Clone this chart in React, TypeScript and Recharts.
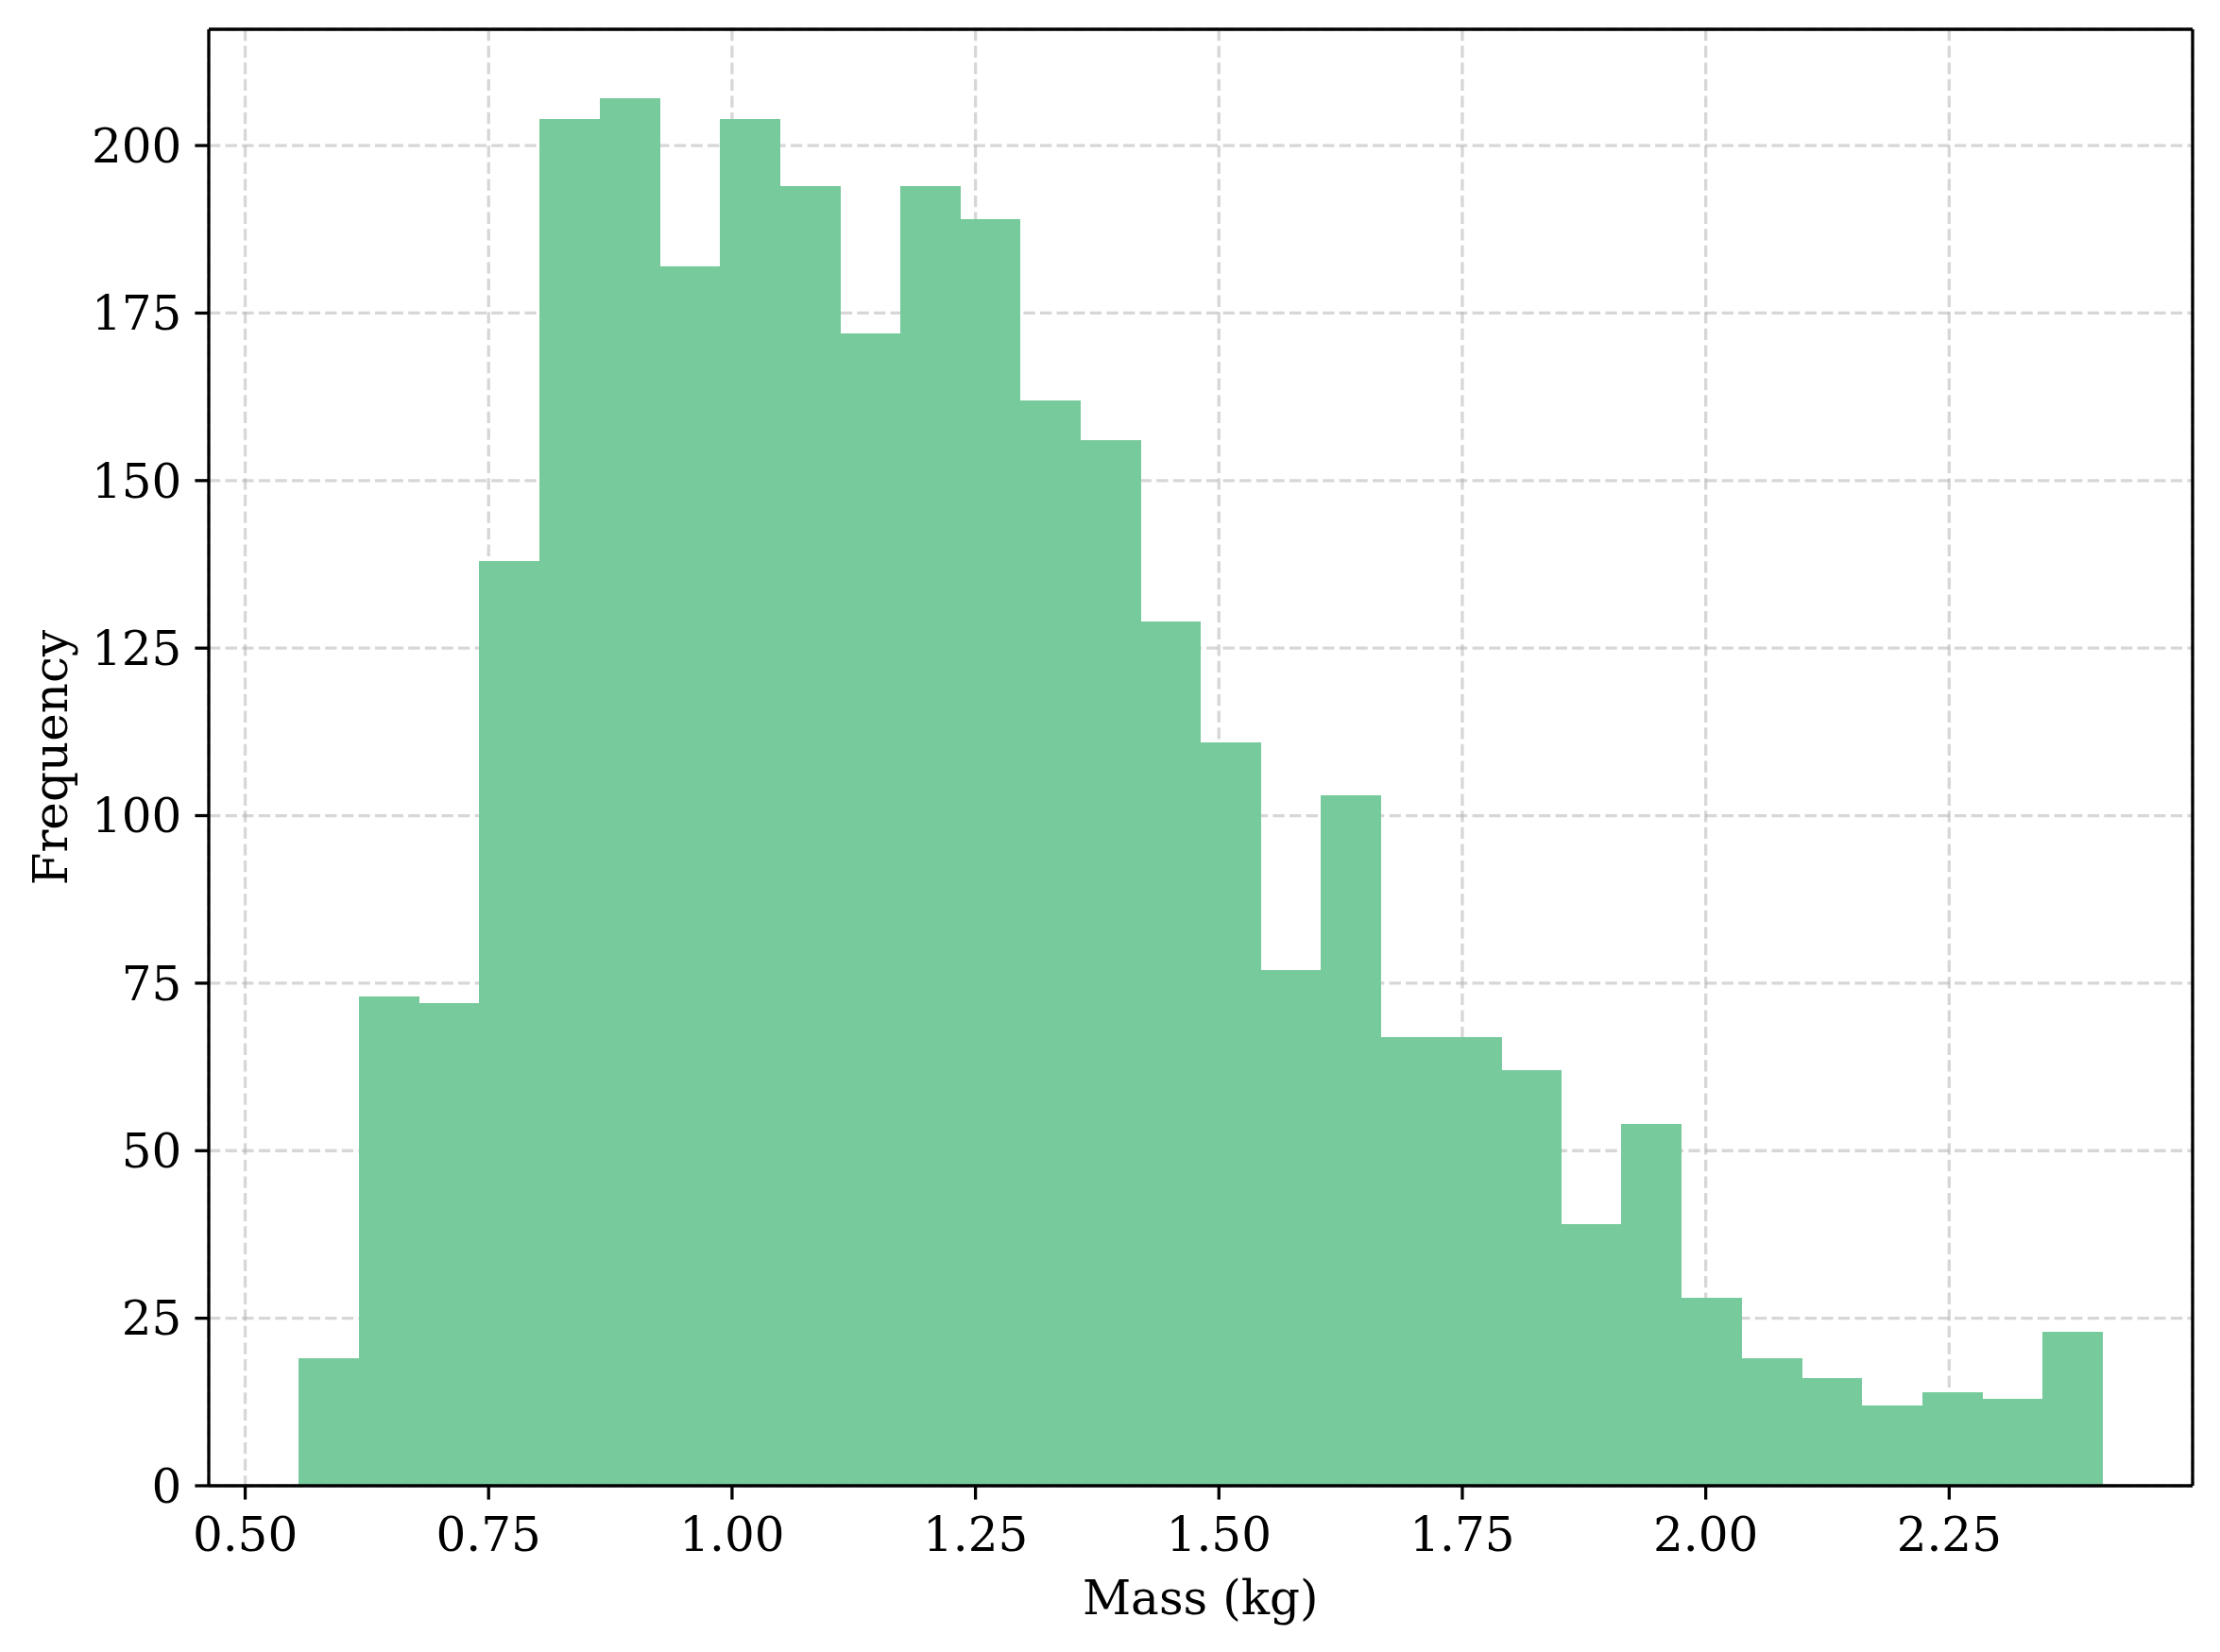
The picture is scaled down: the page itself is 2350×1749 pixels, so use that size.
import React from 'react';
import { BarChart, Bar, XAxis, YAxis, CartesianGrid, Label, ReferenceLine } from 'recharts';

// Histogram counts (30 bins)
const COUNTS = [19, 73, 72, 138, 204, 207, 182, 204, 194, 172, 194, 189, 162, 156, 129, 111, 77, 103, 67, 67, 62, 39, 54, 28, 19, 16, 12, 14, 13, 23];
// Bin layout of the histogram
const BIN_START = 0.5552;
const BIN_WIDTH = 0.06174;
const X_TICKS = [0.5, 0.75, 1.0, 1.25, 1.5, 1.75, 2.0, 2.25];
const Y_TICKS = [0, 25, 50, 75, 100, 125, 150, 175, 200];
const X_DOMAIN: [number, number] = [0.4626, 2.5];
const Y_DOMAIN: [number, number] = [0, 217.35];

const data = COUNTS.map((c, i) => ({ mass: BIN_START + (i + 0.5) * BIN_WIDTH, count: c }));

const FONT = 'DejaVu Serif';
const FS = 50;
const LW = 3.3;

const tickStyle = { fontSize: FS, fontFamily: FONT, fill: '#000' };

export default function App() {
  return (
    <div style={{ position: 'absolute', left: 0, top: 0, width: 2350, height: 1749, background: '#fff' }}>
      <style>{'.recharts-bar-rectangle path, .recharts-bar-rectangle .recharts-rectangle { shape-rendering: crispEdges; }'}</style>
      <BarChart
        width={2350}
        height={1749}
        data={data}
        margin={{ top: 31, right: 29, bottom: 0, left: 0 }}
        barCategoryGap={0}
        barGap={0}
      >
        <CartesianGrid
          stroke="#b0b0b0"
          strokeOpacity={0.5}
          strokeWidth={LW}
          strokeDasharray="12.3 5.3"
        />
        <XAxis
          dataKey="mass"
          type="number"
          domain={X_DOMAIN}
          ticks={X_TICKS}
          interval={0}
          allowDataOverflow
          tickFormatter={(v: number) => v.toFixed(2)}
          tick={tickStyle}
          tickSize={14.6}
          tickMargin={18.5}
          height={176}
          axisLine={{ stroke: '#000', strokeWidth: LW }}
          tickLine={{ stroke: '#000', strokeWidth: LW }}
        >
          <Label
            content={() => (
              <text x={1270.7} y={1709.3} textAnchor="middle" fontFamily={FONT} fontSize={FS} fill="#000">
                Mass (kg)
              </text>
            )}
          />
        </XAxis>
        <YAxis
          type="number"
          domain={Y_DOMAIN}
          ticks={Y_TICKS}
          interval={0}
          allowDataOverflow
          tick={tickStyle}
          tickSize={14.6}
          tickMargin={14}
          width={221}
          axisLine={{ stroke: '#000', strokeWidth: LW }}
          tickLine={{ stroke: '#000', strokeWidth: LW }}
        >
          <Label
            content={() => (
              <text
                x={0}
                y={0}
                transform="translate(70.7,802) rotate(-90)"
                textAnchor="middle"
                fontFamily={FONT}
                fontSize={FS}
                fill="#000"
              >
                Frequency
              </text>
            )}
          />
        </YAxis>
        <Bar dataKey="count" fill="#77ca9c" isAnimationActive={false} />
        <ReferenceLine y={Y_DOMAIN[1]} stroke="#000" strokeWidth={LW} ifOverflow="visible" />
        <ReferenceLine x={X_DOMAIN[1]} stroke="#000" strokeWidth={LW} ifOverflow="visible" />
      </BarChart>
    </div>
  );
}
